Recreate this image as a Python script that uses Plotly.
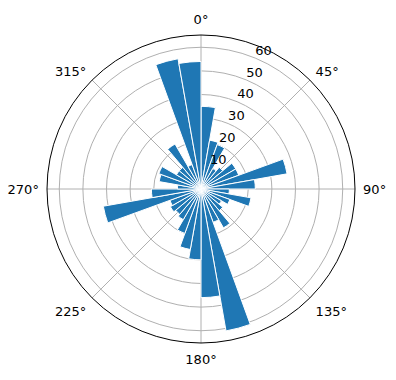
import plotly.graph_objects as go

# Bar centres (degrees, clockwise from north) and radial values
angles = [5, 15, 25, 35, 45, 55, 65, 75, 85,
          95, 105, 115, 125, 135, 145, 155, 165, 175,
          185, 195, 205, 215, 225, 235, 245, 255, 265,
          275, 285, 295, 305, 315, 325, 335, 345, 355]
values = [35, 21, 20, 10, 12, 17, 17, 37, 23,
          12, 21.5, 13, 10, 12, 19, 15, 61, 46,
          30, 26, 20, 15, 14, 15, 14, 42, 21,
          10, 18, 19, 12, 12, 22, 11, 56, 54]
bar_width = 10

theta_ticks = [0, 45, 90, 135, 180, 225, 270, 315]
theta_labels = ["0°", "45°", "90°", "135°", "180°", "225°", "270°", "315°"]
r_ticks = [10, 20, 30, 40, 50, 60]
r_label_angle = 22.5
r_max = 65.2

fig = go.Figure()
fig.add_trace(go.Barpolar(
    r=values,
    theta=angles,
    width=[bar_width] * len(angles),
    marker=dict(color="#1f77b4", line=dict(color="white", width=1)),
    opacity=1,
    hoverinfo="skip",
))
# radial tick labels, matplotlib style (horizontal, up-right of the ring)
fig.add_trace(go.Scatterpolar(
    r=r_ticks,
    theta=[r_label_angle] * len(r_ticks),
    mode="text",
    text=[str(v) for v in r_ticks],
    textposition="top right",
    textfont=dict(family="DejaVu Sans", size=13, color="black"),
    cliponaxis=False,
    hoverinfo="skip",
))

W, H = 396, 380
cx, cy, R = 201, 189, 154
fig.update_layout(
    width=W, height=H,
    margin=dict(l=0, r=0, t=0, b=0),
    paper_bgcolor="white",
    showlegend=False,
    font=dict(family="DejaVu Sans", size=13, color="black"),
    polar=dict(
        domain=dict(x=[(cx - R) / W, (cx + R) / W],
                    y=[(H - cy - R) / H, (H - cy + R) / H]),
        bgcolor="white",
        bargap=0,
        angularaxis=dict(
            direction="clockwise", rotation=90,
            tickmode="array", tickvals=theta_ticks, ticktext=theta_labels,
            showgrid=True, gridcolor="#b0b0b0", gridwidth=0.8,
            showline=True, linecolor="black", linewidth=1,
            ticks="outside", ticklen=5, tickcolor="rgba(0,0,0,0)",
            layer="above traces",
        ),
        radialaxis=dict(
            range=[0, r_max], tickmode="array", tickvals=r_ticks,
            showgrid=True, gridcolor="#b0b0b0", gridwidth=0.8,
            showline=False, ticks="", showticklabels=False,
            layer="above traces",
        ),
    ),
)

fig.write_html("out.html")
